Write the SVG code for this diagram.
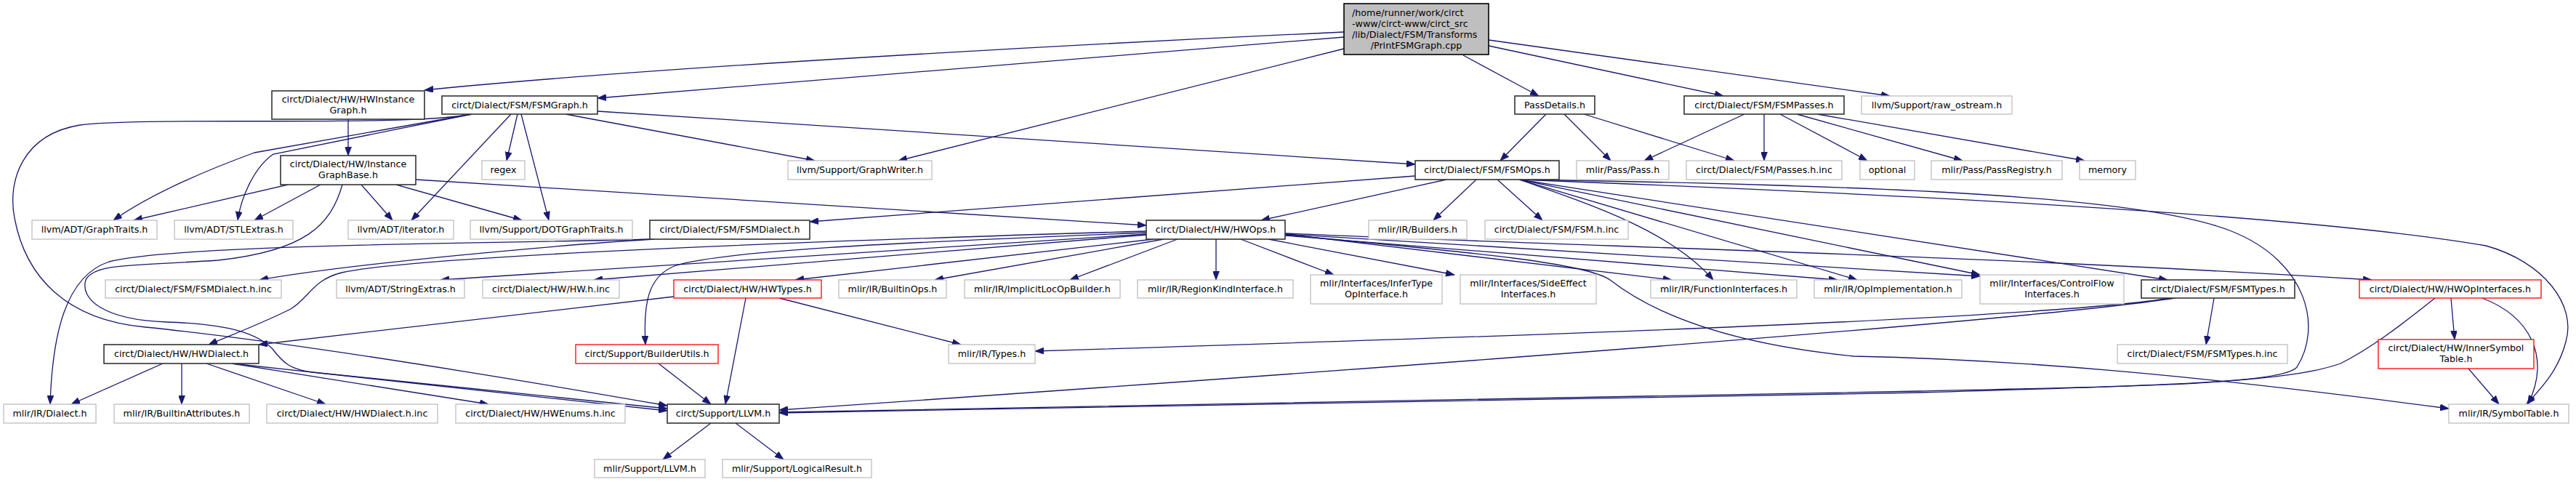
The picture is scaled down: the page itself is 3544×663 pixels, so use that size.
<svg xmlns="http://www.w3.org/2000/svg" width="3544" height="663" viewBox="0 0 3544 663">
<style>
.node rect{fill:#ffffff;stroke-width:1.3}
.doc rect{stroke:#333333;stroke-width:1.6}
.ext rect{stroke:#bfbfbf}
.trunc rect{stroke:#ff0000}
.root rect{fill:#bfbfbf;stroke:#000000;stroke-width:1.6}
text{font-family:"DejaVu Sans","Liberation Sans",sans-serif;font-size:12.7px;fill:#000000;text-anchor:middle}
text.l{text-anchor:start}
#edges path{fill:none;stroke:#191970;stroke-width:1.3;marker-end:url(#arr)}
</style>
<defs>
<marker id="arr" markerUnits="userSpaceOnUse" viewBox="0 0 12 9" refX="12" refY="4.5" markerWidth="12" markerHeight="9" orient="auto">
<path d="M0,0 L12,4.5 L0,9 z" fill="#191970" stroke="#191970" stroke-width="0.8"/>
</marker>
</defs>
<rect x="0" y="0" width="3544" height="663" fill="#ffffff"/>
<g id="edges">
<path d="M1849,44 C1500,60 900,92 584,124"/>
<path d="M1849,51 L822,135"/>
<path d="M1849,67 L1236,221"/>
<path d="M2013,76 L2117,132"/>
<path d="M2048,63 L2371,132"/>
<path d="M2048,55 L2600,132"/>
<path d="M649,157 L350,210 C290,232 210,265 156,303"/>
<path d="M649,157 L376,212 C350,230 332,270 327,303"/>
<path d="M703,157 L566,303"/>
<path d="M712,157 L697,221"/>
<path d="M717,157 L755,303"/>
<path d="M778,157 L1121,221"/>
<path d="M822,153 L1947,226"/>
<path d="M649,157 C560,175 200,160 110,172 C30,185 10,250 20,300 C35,380 90,440 200,450 C400,470 700,520 918,558"/>
<path d="M479,164 L479,214"/>
<path d="M396,254 L184,303"/>
<path d="M441,254 L350,303"/>
<path d="M497,254 L540,303"/>
<path d="M545,254 L718,303"/>
<path d="M572,247 L1577,310"/>
<path d="M471,254 C455,310 420,345 300,358 C180,366 130,362 118,385 C110,410 140,440 230,443 C320,446 355,460 375,480 C390,500 400,508 430,512 L918,562"/>
<path d="M895,329 C700,335 250,335 150,360 C90,380 72,460 69,556"/>
<path d="M900,329 C800,335 500,360 357,385"/>
<path d="M1947,242 L1114,305"/>
<path d="M1990,247 L1735,303"/>
<path d="M2031,247 L1972,303"/>
<path d="M2060,247 L2122,303"/>
<path d="M2090,247 C2200,285 2300,320 2357,385"/>
<path d="M2090,247 L2555,385"/>
<path d="M2090,247 L2724,378"/>
<path d="M2090,247 L2982,385"/>
<path d="M2090,247 C2600,255 2950,270 3070,318 C3175,360 3195,450 3160,505 C3140,530 2900,532 2640,538 L1072,567"/>
<path d="M2090,247 C2700,270 3200,300 3420,338 C3500,360 3545,420 3530,470 C3520,510 3495,535 3476,556"/>
<path d="M2127,157 L2064,221"/>
<path d="M2152,157 L2216,221"/>
<path d="M2179,157 L2386,221"/>
<path d="M2400,157 L2262,221"/>
<path d="M2427,157 L2427,221"/>
<path d="M2449,157 L2569,221"/>
<path d="M2472,157 L2700,221"/>
<path d="M2500,157 L2868,221"/>
<path d="M1577,318 C1000,335 560,355 470,375 C430,385 425,410 400,425 C360,445 320,460 287,474"/>
<path d="M1578,322 L606,385"/>
<path d="M1578,323 L817,385"/>
<path d="M1578,320 C1200,335 1000,345 930,365 C890,380 885,420 888,474"/>
<path d="M1587,329 L1094,385"/>
<path d="M1601,329 L1286,385"/>
<path d="M1620,329 L1472,385"/>
<path d="M1673,329 L1673,385"/>
<path d="M1707,329 L1835,378"/>
<path d="M1745,329 L2001,378"/>
<path d="M1768,322 L2300,385"/>
<path d="M1768,324 L2528,385"/>
<path d="M1768,322 L2724,380"/>
<path d="M1768,321 C2200,340 2700,350 3263,385"/>
<path d="M1768,323 C2000,345 2180,360 2215,385 C2260,420 2350,470 2550,490 C2800,495 3050,520 3369,562"/>
<path d="M927,408 L356,474"/>
<path d="M1026,410 L998,556"/>
<path d="M1072,410 L1322,474"/>
<path d="M906,500 L978,556"/>
<path d="M224,500 L98,556"/>
<path d="M250,500 L250,556"/>
<path d="M284,500 L448,556"/>
<path d="M319,500 L672,556"/>
<path d="M319,500 L918,565"/>
<path d="M978,582 L912,632"/>
<path d="M1012,582 L1078,632"/>
<path d="M3046,410 L3035,474"/>
<path d="M2986,410 C2800,440 2000,465 1424,483"/>
<path d="M2992,410 C2800,440 2000,500 1072,564"/>
<path d="M3372,410 L3377,467"/>
<path d="M3415,410 C3480,435 3510,490 3478,556"/>
<path d="M3350,410 C3300,450 3260,480 3220,500 C3150,525 3000,530 2640,540 L1072,568"/>
<path d="M3396,507 L3438,556"/>
</g>
<g id="n_root" class="node root"><rect x="1849" y="5" width="199" height="70"/>
<text class="l" x="1860" y="21.5">/home/runner/work/circt</text>
<text class="l" x="1860" y="36.5">-www/circt-www/circt_src</text>
<text class="l" x="1860" y="51.5">/lib/Dialect/FSM/Transforms</text>
<text x="1948.5" y="66.5">/PrintFSMGraph.cpp</text></g>
<g id="n_hwig" class="node doc"><rect x="374" y="125" width="210" height="39"/><text x="479" y="141">circt/Dialect/HW/HWInstance</text><text x="479" y="155.5">Graph.h</text></g>
<g id="n_fsmgraph" class="node doc"><rect x="608" y="132" width="214" height="25"/><text x="715" y="149">circt/Dialect/FSM/FSMGraph.h</text></g>
<g id="n_passdetails" class="node doc"><rect x="2084" y="132" width="110" height="25"/><text x="2139" y="149">PassDetails.h</text></g>
<g id="n_fsmpasses" class="node doc"><rect x="2317" y="132" width="220" height="25"/><text x="2427" y="149">circt/Dialect/FSM/FSMPasses.h</text></g>
<g id="n_rawostream" class="node ext"><rect x="2561" y="132" width="207" height="25"/><text x="2664.5" y="149">llvm/Support/raw_ostream.h</text></g>
<g id="n_igb" class="node doc"><rect x="386" y="214" width="186" height="40"/><text x="479" y="230">circt/Dialect/HW/Instance</text><text x="479" y="244.5">GraphBase.h</text></g>
<g id="n_regex" class="node ext"><rect x="663" y="221" width="59" height="26"/><text x="692.5" y="238">regex</text></g>
<g id="n_graphwriter" class="node ext"><rect x="1084" y="221" width="198" height="26"/><text x="1183" y="238">llvm/Support/GraphWriter.h</text></g>
<g id="n_fsmops" class="node doc"><rect x="1947" y="221" width="198" height="26"/><text x="2046" y="238">circt/Dialect/FSM/FSMOps.h</text></g>
<g id="n_pass" class="node ext"><rect x="2169" y="221" width="127" height="26"/><text x="2232.5" y="238">mlir/Pass/Pass.h</text></g>
<g id="n_passesinc" class="node ext"><rect x="2320" y="221" width="214" height="26"/><text x="2427" y="238">circt/Dialect/FSM/Passes.h.inc</text></g>
<g id="n_optional" class="node ext"><rect x="2559" y="221" width="75" height="26"/><text x="2596.5" y="238">optional</text></g>
<g id="n_passregistry" class="node ext"><rect x="2657" y="221" width="180" height="26"/><text x="2747" y="238">mlir/Pass/PassRegistry.h</text></g>
<g id="n_memory" class="node ext"><rect x="2861" y="221" width="77" height="26"/><text x="2899.5" y="238">memory</text></g>
<g id="n_graphtraits" class="node ext"><rect x="44" y="303" width="172" height="26"/><text x="130" y="320">llvm/ADT/GraphTraits.h</text></g>
<g id="n_stlextras" class="node ext"><rect x="240" y="303" width="163" height="26"/><text x="321.5" y="320">llvm/ADT/STLExtras.h</text></g>
<g id="n_iterator" class="node ext"><rect x="479" y="303" width="145" height="26"/><text x="551.5" y="320">llvm/ADT/iterator.h</text></g>
<g id="n_dotgraphtraits" class="node ext"><rect x="647" y="303" width="223" height="26"/><text x="758.5" y="320">llvm/Support/DOTGraphTraits.h</text></g>
<g id="n_fsmdialect" class="node doc"><rect x="894" y="303" width="220" height="26"/><text x="1004" y="320">circt/Dialect/FSM/FSMDialect.h</text></g>
<g id="n_hwops" class="node doc"><rect x="1577" y="303" width="191" height="26"/><text x="1672.5" y="320">circt/Dialect/HW/HWOps.h</text></g>
<g id="n_builders" class="node ext"><rect x="1883" y="303" width="135" height="26"/><text x="1950.5" y="320">mlir/IR/Builders.h</text></g>
<g id="n_fsmhinc" class="node ext"><rect x="2043" y="303" width="197" height="26"/><text x="2141.5" y="320">circt/Dialect/FSM/FSM.h.inc</text></g>
<g id="n_fsmdialectinc" class="node ext"><rect x="145" y="385" width="242" height="25"/><text x="266" y="402">circt/Dialect/FSM/FSMDialect.h.inc</text></g>
<g id="n_stringextras" class="node ext"><rect x="463" y="385" width="176" height="25"/><text x="551" y="402">llvm/ADT/StringExtras.h</text></g>
<g id="n_hwhinc" class="node ext"><rect x="664" y="385" width="188" height="25"/><text x="758" y="402">circt/Dialect/HW/HW.h.inc</text></g>
<g id="n_hwtypes" class="node trunc"><rect x="927" y="385" width="203" height="25"/><text x="1028.5" y="402">circt/Dialect/HW/HWTypes.h</text></g>
<g id="n_builtinops" class="node ext"><rect x="1154" y="385" width="148" height="25"/><text x="1228" y="402">mlir/IR/BuiltinOps.h</text></g>
<g id="n_implicitloc" class="node ext"><rect x="1327" y="385" width="214" height="25"/><text x="1434" y="402">mlir/IR/ImplicitLocOpBuilder.h</text></g>
<g id="n_regionkind" class="node ext"><rect x="1565" y="385" width="214" height="25"/><text x="1672" y="402">mlir/IR/RegionKindInterface.h</text></g>
<g id="n_infertype" class="node ext"><rect x="1803" y="378" width="181" height="40"/><text x="1893.5" y="394">mlir/Interfaces/InferType</text><text x="1893.5" y="408.5">OpInterface.h</text></g>
<g id="n_sideeffect" class="node ext"><rect x="2009" y="378" width="187" height="40"/><text x="2102.5" y="394">mlir/Interfaces/SideEffect</text><text x="2102.5" y="408.5">Interfaces.h</text></g>
<g id="n_funcinterfaces" class="node ext"><rect x="2271" y="385" width="201" height="25"/><text x="2371.5" y="402">mlir/IR/FunctionInterfaces.h</text></g>
<g id="n_opimpl" class="node ext"><rect x="2496" y="385" width="203" height="25"/><text x="2597.5" y="402">mlir/IR/OpImplementation.h</text></g>
<g id="n_controlflow" class="node ext"><rect x="2724" y="378" width="198" height="40"/><text x="2823" y="394">mlir/Interfaces/ControlFlow</text><text x="2823" y="408.5">Interfaces.h</text></g>
<g id="n_fsmtypes" class="node doc"><rect x="2946" y="385" width="211" height="25"/><text x="3051.5" y="402">circt/Dialect/FSM/FSMTypes.h</text></g>
<g id="n_hwopinterfaces" class="node trunc"><rect x="3246" y="385" width="250" height="25"/><text x="3371" y="402">circt/Dialect/HW/HWOpInterfaces.h</text></g>
<g id="n_hwdialect" class="node doc"><rect x="143" y="474" width="213" height="26"/><text x="249.5" y="491">circt/Dialect/HW/HWDialect.h</text></g>
<g id="n_builderutils" class="node trunc"><rect x="792" y="474" width="196" height="26"/><text x="890" y="491">circt/Support/BuilderUtils.h</text></g>
<g id="n_types" class="node ext"><rect x="1305" y="474" width="119" height="26"/><text x="1364.5" y="491">mlir/IR/Types.h</text></g>
<g id="n_fsmtypesinc" class="node ext"><rect x="2913" y="474" width="234" height="26"/><text x="3030" y="491">circt/Dialect/FSM/FSMTypes.h.inc</text></g>
<g id="n_innersym" class="node trunc"><rect x="3272" y="467" width="214" height="40"/><text x="3379" y="483">circt/Dialect/HW/InnerSymbol</text><text x="3379" y="497.5">Table.h</text></g>
<g id="n_dialect" class="node ext"><rect x="5" y="556" width="127" height="26"/><text x="68.5" y="573">mlir/IR/Dialect.h</text></g>
<g id="n_builtinattrs" class="node ext"><rect x="157" y="556" width="186" height="26"/><text x="250" y="573">mlir/IR/BuiltinAttributes.h</text></g>
<g id="n_hwdialectinc" class="node ext"><rect x="367" y="556" width="235" height="26"/><text x="484.5" y="573">circt/Dialect/HW/HWDialect.h.inc</text></g>
<g id="n_hwenumsinc" class="node ext"><rect x="627" y="556" width="233" height="26"/><text x="743.5" y="573">circt/Dialect/HW/HWEnums.h.inc</text></g>
<g id="n_circtllvm" class="node doc"><rect x="918" y="556" width="154" height="26"/><text x="995" y="573">circt/Support/LLVM.h</text></g>
<g id="n_symboltable" class="node ext"><rect x="3369" y="556" width="165" height="26"/><text x="3451.5" y="573">mlir/IR/SymbolTable.h</text></g>
<g id="n_mlirllvm" class="node ext"><rect x="818" y="632" width="152" height="25"/><text x="894" y="649">mlir/Support/LLVM.h</text></g>
<g id="n_logicalresult" class="node ext"><rect x="994" y="632" width="205" height="25"/><text x="1096.5" y="649">mlir/Support/LogicalResult.h</text></g>
</svg>
